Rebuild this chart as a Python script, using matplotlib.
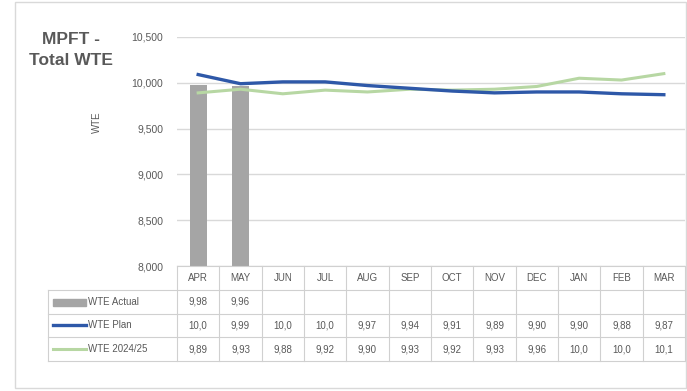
import matplotlib
matplotlib.use("Agg")
import matplotlib.pyplot as plt
from matplotlib.patches import Rectangle
from matplotlib.lines import Line2D

months = ["APR", "MAY", "JUN", "JUL", "AUG", "SEP", "OCT", "NOV", "DEC", "JAN", "FEB", "MAR"]
wte_actual = [9980, 9960]
wte_plan = [10090, 9990, 10010, 10010, 9970, 9940, 9910, 9890, 9900, 9900, 9880, 9870]
wte_2425 = [9890, 9930, 9880, 9920, 9900, 9930, 9920, 9930, 9960, 10050, 10030, 10100]
series_names = ["WTE Actual", "WTE Plan", "WTE 2024/25"]
yticks = [8000, 8500, 9000, 9500, 10000, 10500]

c_bar = "#a5a5a5"
c_plan = "#2e58a8"
c_2425 = "#b7d7a3"
c_text = "#595959"
c_grid = "#d9d9d9"

plt.rcParams["font.family"] = ["Liberation Sans", "DejaVu Sans"]

W, H = 687, 391
fig = plt.figure(figsize=(W / 100, H / 100), dpi=100)


def fbox(x0, y0, x1, y1):
    # pixel box -> figure fractions
    return [x0 / W, 1 - y1 / H, (x1 - x0) / W, (y1 - y0) / H]


# outer frame
fig.patches.append(Rectangle((15 / W, 1 - 388 / H), 671 / W, 386 / H, transform=fig.transFigure,
                             fill=False, edgecolor=c_grid, lw=1))

ax = fig.add_axes(fbox(177, 37, 685, 266))
x = list(range(len(months)))
ax.bar(x[:len(wte_actual)], [v - 8000 for v in wte_actual], bottom=8000, width=0.4, color=c_bar, zorder=2)
ax.plot(x, wte_plan, color=c_plan, lw=2.4, zorder=4)
ax.plot(x, wte_2425, color=c_2425, lw=2.2, zorder=3)
ax.set_xlim(-0.5, 11.5)
ax.set_ylim(8000, 10500)
ax.set_yticks(yticks)
ax.set_yticklabels([f"{v:,}" for v in yticks])
ax.yaxis.grid(True, color=c_grid, lw=1)
ax.set_axisbelow(True)
ax.set_xticks([])
for s in ax.spines.values():
    s.set_visible(False)
ax.tick_params(axis="y", length=0, pad=10, labelsize=7.5, labelcolor=c_text)

fig.text(71 / W, 1 - 50 / H, "MPFT -\nTotal WTE", ha="center", va="center", fontsize=12.5,
         weight="bold", color=c_text, linespacing=1.45)
fig.text(97 / W, 1 - 122 / H, "WTE", rotation=90, ha="center", va="center", fontsize=7, color=c_text)

# data table under the chart
colw = (685 - 177) / 12
left = -0.5 - (177 - 48) / colw
tab = fig.add_axes(fbox(48, 266, 685, 361))
tab.set_xlim(left, 11.5)
tab.set_ylim(4, 0)
tab.axis("off")

lk = dict(color="#d0d0d0", lw=0.8, clip_on=False)
tab.plot([-0.5, 11.5], [0, 0], **lk)
for r in range(1, 5):
    tab.plot([left, 11.5], [r, r], **lk)
for i in range(13):
    tab.plot([i - 0.5, i - 0.5], [0, 4], **lk)
tab.plot([left, left], [1, 4], **lk)

fs = 7
for i, m in enumerate(months):
    tab.text(i, 0.5, m, ha="center", va="center", fontsize=fs, color=c_text)


def cell(v):
    return f"{v:,}"[:4]


rows = [wte_actual, wte_plan, wte_2425]
for r, vals in enumerate(rows, start=1):
    for i, v in enumerate(vals):
        tab.text(i, r + 0.5, cell(v), ha="center", va="center", fontsize=fs, color=c_text)

# legend keys
k0 = left + 5 / colw
k1 = left + 38 / colw
tab.add_patch(Rectangle((k0, 1.38), k1 - k0, 0.3, color=c_bar, clip_on=False))
tab.add_line(Line2D([k0, k1], [2.5, 2.5], color=c_plan, lw=2.4, clip_on=False))
tab.add_line(Line2D([k0, k1], [3.5, 3.5], color=c_2425, lw=2.2, clip_on=False))
for r, name in enumerate(series_names, start=1):
    tab.text(k1 + 2 / colw, r + 0.5, name, ha="left", va="center", fontsize=fs, color=c_text)

fig.savefig("out.png", dpi=100)
